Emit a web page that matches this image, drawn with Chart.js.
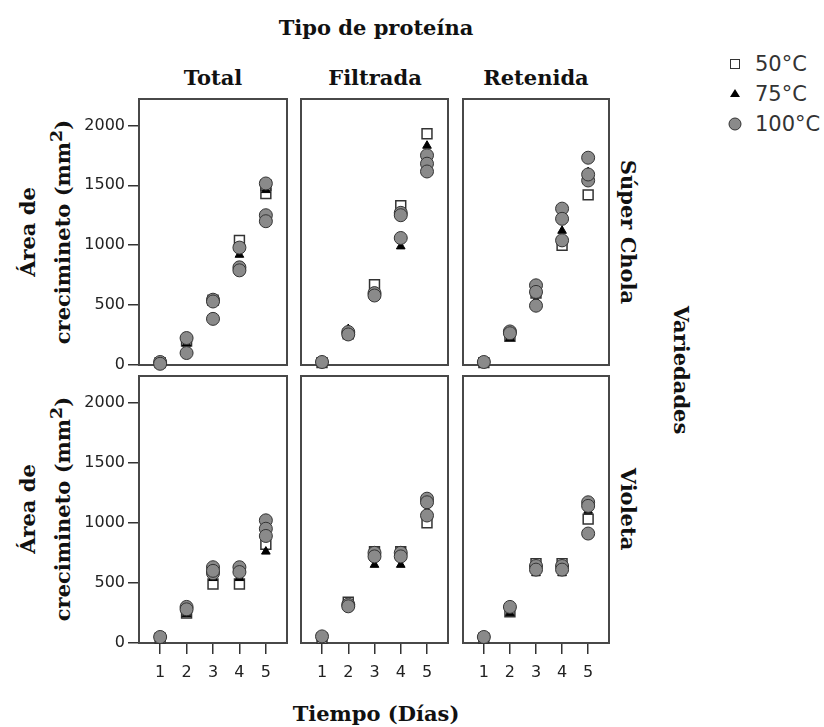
<!DOCTYPE html>
<html>
<head>
<meta charset="utf-8">
<script src="https://cdn.jsdelivr.net/npm/chart.js@4.4.0/dist/chart.umd.min.js"></script>
<style>
  body { margin: 0; background: #fff; }
  #page { position: relative; width: 824px; height: 727px; overflow: hidden; background: #fff; }
  canvas { position: absolute; }
  .lbl { position: absolute; font: bold 21px "DejaVu Serif"; color: #111; white-space: nowrap;
         line-height: 1; transform: translate(-50%, -50%); }
  .rotL { transform: translate(-50%, -50%) rotate(-90deg); text-align: center; line-height: 28px; }
  .rotR { transform: translate(-50%, -50%) rotate(90deg); }
  .leg { position: absolute; font: 21px "DejaVu Sans"; color: #333; line-height: 1; transform: translateY(-50%); }
  .mk { position: absolute; box-sizing: border-box; transform: translate(-50%, -50%); }
</style>
</head>
<body>
<div id="page">
  <div class="lbl" style="left:376px;top:27px">Tipo de proteína</div>
  <div class="lbl" style="left:213px;top:77px">Total</div>
  <div class="lbl" style="left:375px;top:77px">Filtrada</div>
  <div class="lbl" style="left:536px;top:77px">Retenida</div>
  <div class="lbl rotR" style="left:628px;top:232px">Súper Chola</div>
  <div class="lbl rotR" style="left:628px;top:509px">Violeta</div>
  <div class="lbl rotR" style="left:681px;top:370px">Variedades</div>
  <div class="lbl rotL" style="left:45px;top:232px">Área de<br>crecimineto (mm<sup>2</sup>)</div>
  <div class="lbl rotL" style="left:45px;top:509px">Área de<br>crecimineto (mm<sup>2</sup>)</div>
  <div class="lbl" style="left:376px;top:713px">Tiempo (Días)</div>

  <div class="mk" style="left:735px;top:64px;width:10px;height:10px;border:1.5px solid #333;background:#fff"></div>
  <div class="mk" style="left:735px;top:93px;width:0;height:0;border-left:5px solid transparent;border-right:5px solid transparent;border-bottom:8px solid #000"></div>
  <div class="mk" style="left:735px;top:124px;width:13px;height:13px;border:1px solid #333;border-radius:50%;background:#8a8a8a"></div>
  <div class="leg" id="leg0" style="left:755px;top:64px"></div>
  <div class="leg" id="leg1" style="left:755px;top:94px"></div>
  <div class="leg" id="leg2" style="left:755px;top:124px"></div>
</div>
<script>
// facet labels and axis ticks
const days = [1, 2, 3, 4, 5];
const areaTicks = [0, 500, 1000, 1500, 2000];
const temps = ['50°C', '75°C', '100°C'];

// área por día (réplicas), Súper Chola
const totalChola50 = [[20], [200], [540], [1040], [1430, 1500]];
const totalChola75 = [[15], [180], [520], [920], [1460]];
const totalChola100 = [[25, 10], [225, 100], [545, 530, 385], [980, 815, 790], [1515, 1250, 1200]];

const filtChola50 = [[20], [260], [670], [1330], [1930]];
const filtChola75 = [[15], [300], [610], [990], [1830]];
const filtChola100 = [[25], [275, 255], [600, 580], [1270, 1250, 1060], [1750, 1680, 1615]];

const retChola50 = [[20], [240], [600], [1000], [1420]];
const retChola75 = [[15], [225], [540], [1120], [1610]];
const retChola100 = [[25], [280, 265], [665, 610, 495], [1305, 1220, 1040], [1730, 1540, 1590]];

// Violeta
const totalViol50 = [[40], [250], [490], [490], [820]];
const totalViol75 = [[35], [240], [540], [540], [760]];
const totalViol100 = [[50], [300, 280], [630, 580, 600], [630, 590], [1020, 950, 890]];

const filtViol50 = [[40], [340], [760], [760], [1000]];
const filtViol75 = [[35], [300], [650], [650], [1100]];
const filtViol100 = [[55], [320, 305], [750, 720], [750, 720], [1200, 1170, 1060]];

const retViol50 = [[40], [260], [660], [660], [1030]];
const retViol75 = [[35], [250], [580], [580], [1100]];
const retViol100 = [[50], [300], [640, 610], [640, 610], [1170, 1140, 910]];

const panels = [
  [[totalChola50, totalChola75, totalChola100], [filtChola50, filtChola75, filtChola100], [retChola50, retChola75, retChola100]],
  [[totalViol50, totalViol75, totalViol100], [filtViol50, filtViol75, filtViol100], [retViol50, retViol75, retViol100]]
];

temps.forEach((t, i) => { document.getElementById('leg' + i).textContent = t; });

// plot area of each facet, in page pixels
const cols = [{left: 139, right: 287}, {left: 301, right: 448}, {left: 463, right: 609}];
const rows = [{top: 99, bottom: 365}, {top: 376, bottom: 643}];

const markers = [
  {pointStyle: 'rect', radius: 7, backgroundColor: '#fff', borderColor: '#333', borderWidth: 1.5},
  {pointStyle: 'triangle', radius: 5, backgroundColor: '#000', borderColor: '#000', borderWidth: 1},
  {pointStyle: 'circle', radius: 6.5, backgroundColor: '#8a8a8a', borderColor: '#333', borderWidth: 1}
];

const frame = {
  id: 'frame',
  beforeDatasetsDraw(chart) {
    const a = chart.chartArea;
    const ctx = chart.ctx;
    ctx.save();
    ctx.strokeStyle = '#484848';
    ctx.lineWidth = 2;
    ctx.strokeRect(a.left, a.top, a.right - a.left, a.bottom - a.top);
    ctx.restore();
  }
};

function toPoints(reps) {
  const pts = [];
  reps.forEach((vals, i) => vals.forEach(v => pts.push({x: days[i], y: v})));
  return pts;
}

const tickFont = {family: 'DejaVu Sans', size: 16};
const page = document.getElementById('page');

rows.forEach((row, r) => {
  cols.forEach((col, c) => {
    const left = c === 0 ? 70 : col.left - 8;
    const right = col.right + 8;
    const top = row.top - 8;
    const bottom = r === 1 ? 690 : row.bottom + 8;
    const cv = document.createElement('canvas');
    cv.width = right - left;
    cv.height = bottom - top;
    cv.style.left = left + 'px';
    cv.style.top = top + 'px';
    cv.style.width = (right - left) + 'px';
    cv.style.height = (bottom - top) + 'px';
    page.appendChild(cv);

    const datasets = panels[r][c].map((reps, t) => ({
      label: temps[t],
      data: toPoints(reps),
      order: 2 - t,
      clip: false,
      pointStyle: markers[t].pointStyle,
      pointRadius: markers[t].radius,
      pointBackgroundColor: markers[t].backgroundColor,
      pointBorderColor: markers[t].borderColor,
      pointBorderWidth: markers[t].borderWidth
    }));

    new Chart(cv, {
      type: 'scatter',
      data: {datasets},
      plugins: [frame],
      options: {
        responsive: false,
        animation: false,
        events: [],
        layout: {
          autoPadding: false,
          padding: {left: c === 0 ? 0 : 8, right: 8, top: 8, bottom: r === 1 ? 0 : 8}
        },
        plugins: {legend: {display: false}, tooltip: {enabled: false}},
        scales: {
          x: {
            type: 'linear',
            min: 0.2,
            max: 5.8,
            display: r === 1,
            afterBuildTicks: s => { s.ticks = days.map(v => ({value: v})); },
            afterFit: s => {
              if (r === 1) { s.height = bottom - row.bottom; s.paddingLeft = 0; s.paddingRight = 0; }
            },
            border: {display: false},
            grid: {drawOnChartArea: false, tickLength: 11, color: '#333', lineWidth: 1.5},
            ticks: {font: tickFont, color: '#222', padding: 9, autoSkip: false, maxRotation: 0}
          },
          y: {
            min: 0,
            max: 2220,
            display: c === 0,
            afterBuildTicks: s => { s.ticks = areaTicks.map(v => ({value: v})); },
            afterFit: s => {
              if (c === 0) { s.width = col.left - left; s.paddingTop = 0; s.paddingBottom = 0; }
            },
            border: {display: false},
            grid: {drawOnChartArea: false, tickLength: 11, color: '#333', lineWidth: 1.5},
            ticks: {font: tickFont, color: '#222', padding: 3, callback: v => String(v)}
          }
        }
      }
    });
  });
});
</script>
</body>
</html>
